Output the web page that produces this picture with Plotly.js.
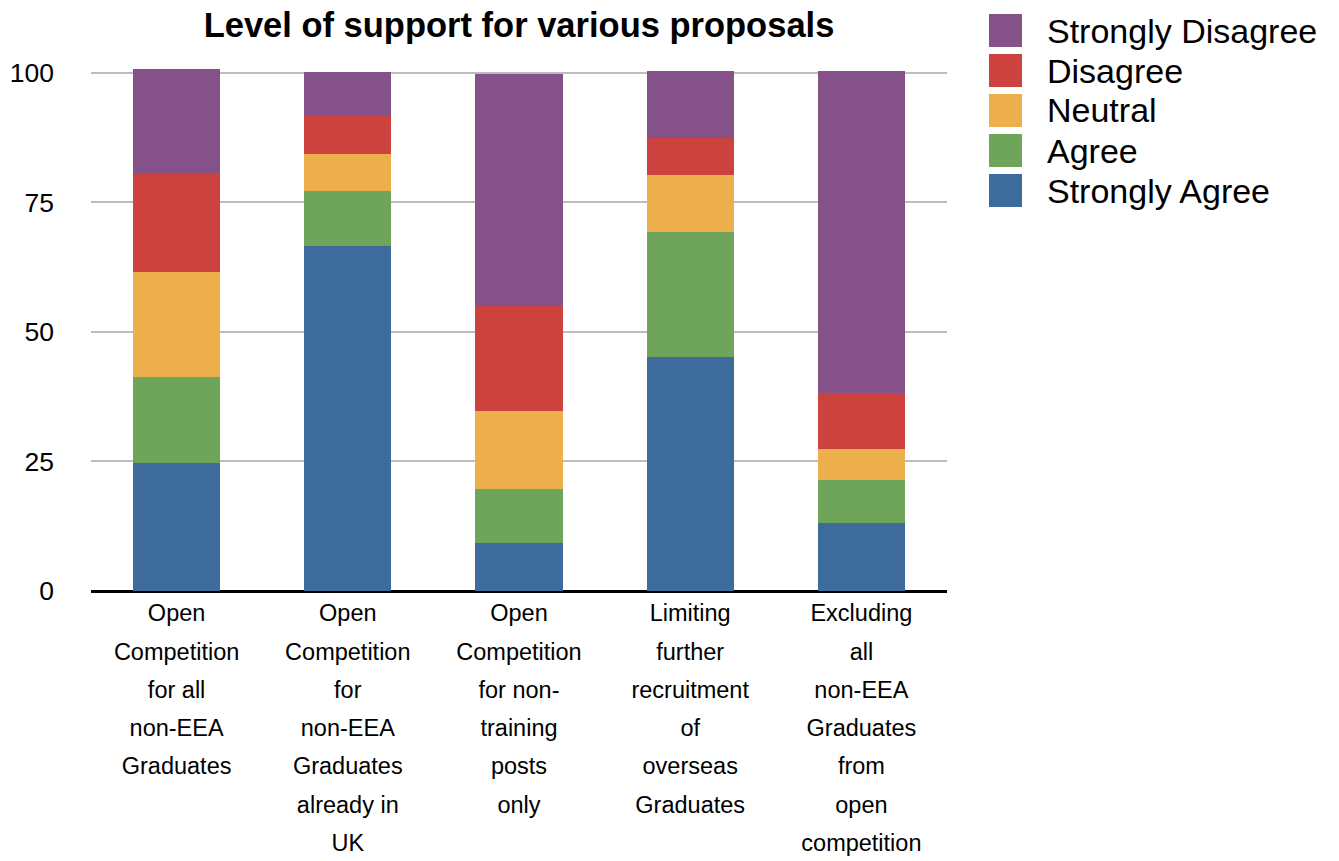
<!DOCTYPE html>
<html>
<head>
<meta charset="utf-8">
<script src="https://cdn.plot.ly/plotly-3.0.1.min.js"></script>
<style>html,body{margin:0;padding:0;background:#fff;}#chart{width:1339px;height:861px;}</style>
</head>
<body>
<div id="chart"></div>
<script>
// ---- data ----
var categories = ["Open Competition for all non-EEA Graduates",
                  "Open Competition for non-EEA Graduates already in UK",
                  "Open Competition for non-training posts only",
                  "Limiting further recruitment of overseas Graduates",
                  "Excluding all non-EEA Graduates from open competition"];
var tickLines = [
  ["Open", "Competition", "for all", "non-EEA", "Graduates"],
  ["Open", "Competition", "for", "non-EEA", "Graduates", "already in", "UK"],
  ["Open", "Competition", "for non-", "training", "posts", "only"],
  ["Limiting", "further", "recruitment", "of", "overseas", "Graduates"],
  ["Excluding", "all", "non-EEA", "Graduates", "from", "open", "competition"]
];
var seriesNames = ["Strongly Agree", "Agree", "Neutral", "Disagree", "Strongly Disagree"];
var stronglyAgree    = [24.7, 66.5,  9.2, 45.2, 13.2];
var agree            = [16.6, 10.6, 10.4, 24.0,  8.2];
var neutral          = [20.3,  7.2, 15.1, 11.0,  6.0];
var disagree         = [19.0,  7.3, 20.2,  7.2, 10.8];
var stronglyDisagree = [20.2,  8.6, 44.9, 12.9, 62.1];
var yTicks = [0, 25, 50, 75, 100];
var titleText = "Level of support for various proposals";

// ---- styling ----
var colors = ["#3c6b9c", "#6ea55a", "#ecaf4c", "#cb423f", "#845189"];
var seriesValues = [stronglyAgree, agree, neutral, disagree, stronglyDisagree];
var FONT = "Liberation Sans, Arial, Helvetica, sans-serif";

var traces = seriesNames.map(function (name, i) {
  return {
    type: "bar", name: name, x: categories, y: seriesValues[i],
    marker: {color: colors[i], line: {width: 0}},
    showlegend: false, hoverinfo: "x+y+name"
  };
});

var ticktext = tickLines.map(function (lines) {
  return lines.map(function (l) { return '<span style="font-size:23.5px">' + l + '</span>'; }).join("<br>");
});

// plot area in pixels
var W = 1339, H = 861, L = 91, R = 947, T = 52, B = 591;
function px(x) { return (x - L) / (R - L); }
function py(y) { return (B - y) / (B - T); }

// custom legend (large squares), top to bottom: Strongly Disagree ... Strongly Agree
var shapes = [], annotations = [];
for (var k = 0; k < seriesNames.length; k++) {
  var idx = seriesNames.length - 1 - k;
  var rowTop = 14 + 40 * k;
  shapes.push({type: "rect", xref: "paper", yref: "paper",
    x0: px(989), x1: px(1022), y0: py(rowTop + 33), y1: py(rowTop),
    fillcolor: colors[idx], line: {width: 0}});
  annotations.push({xref: "paper", yref: "paper", x: px(1045), y: py(rowTop + 16.5),
    xanchor: "left", yanchor: "middle", showarrow: false, text: seriesNames[idx],
    font: {family: FONT, size: 34, color: "#000"}});
}

var layout = {
  width: W, height: H,
  margin: {l: L, r: W - R, t: T, b: H - B, pad: 0},
  paper_bgcolor: "#fff", plot_bgcolor: "#fff",
  barmode: "stack", bargap: 0.49,
  showlegend: false,
  title: {text: "<b>" + titleText + "</b>", x: 0.5, xref: "paper", xanchor: "center",
          y: 1 - 25 / H, yanchor: "middle", font: {family: FONT, size: 34.5, color: "#000"}},
  xaxis: {tickmode: "array", tickvals: categories, ticktext: ticktext,
          tickfont: {family: FONT, size: 29.4, color: "#000"}, tickangle: 0,
          showgrid: false, showline: false, ticks: "", automargin: false},
  yaxis: {range: [0, 104], tickvals: yTicks, ticktext: yTicks.map(String),
          tickfont: {family: FONT, size: 26.5, color: "#000"},
          showgrid: true, gridcolor: "#bdbdbd", gridwidth: 2,
          zeroline: true, zerolinecolor: "#000", zerolinewidth: 3,
          showline: false, ticks: "", ticklabelstandoff: 36, automargin: false},
  shapes: shapes, annotations: annotations
};

Plotly.newPlot("chart", traces, layout, {displayModeBar: false, staticPlot: true});
</script>
</body>
</html>
